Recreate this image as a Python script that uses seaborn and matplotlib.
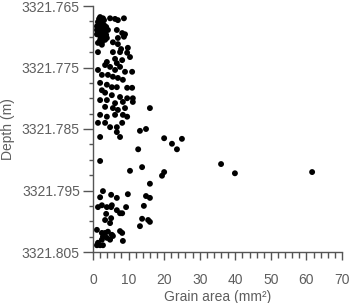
import matplotlib
matplotlib.use("Agg")
import matplotlib.pyplot as plt
from matplotlib.ticker import MultipleLocator, FormatStrFormatter
import seaborn as sns
import pandas as pd

grain_area = [
    2.0, 2.8, 4.8, 6.2, 7.0, 8.7, 6.7, 8.2, 9.0, 7.0, 8.7, 5.6, 7.0, 2.5, 1.4, 5.6, 7.6, 9.6, 9.8, 7.9,
    3.9, 6.2, 8.2, 10.4, 6.7, 1.4, 2.0, 2.5, 3.1, 1.7, 2.2, 2.8, 3.7, 1.4, 2.0, 2.5, 3.4, 1.7, 2.2, 2.8,
    2.0, 2.5, 1.4, 3.4, 3.9, 1.1, 1.1, 1.1, 4.2, 3.7, 1.7, 3.1, 3.4, 1.4, 4.8, 6.2, 7.6, 9.0, 11.0, 2.5,
    4.2, 5.6, 7.0, 8.4, 2.0, 3.9, 5.3, 6.7, 9.6, 11.0, 2.5, 3.4, 5.3, 7.6, 9.6, 2.0, 3.9, 6.2, 8.4, 11.2,
    11.2, 3.4, 5.6, 7.0, 9.0, 16.0, 2.0, 3.9, 6.2, 8.4, 9.6, 1.4, 3.4, 4.8, 6.7, 8.2, 6.7, 7.6, 2.0, 13.2,
    14.9, 20.0, 22.2, 23.6, 25.0, 12.7, 2.0, 13.8, 36.0, 39.9, 61.6, 10.4, 19.4, 20.0, 16.0, 2.8, 2.0, 5.1, 6.7, 9.8,
    14.9, 16.0, 1.4, 2.5, 3.9, 5.1, 5.3, 6.7, 7.6, 8.2, 9.3, 14.3, 3.7, 5.1, 3.4, 4.8, 13.8, 15.5, 16.0, 13.2,
    1.1, 2.5, 3.4, 4.2, 5.3, 7.6, 8.2, 2.5, 2.8, 3.9, 4.8, 5.6, 1.4, 1.1, 2.0, 2.8, 8.4,
]

depth = [
    3321.7668, 3321.7670, 3321.7670, 3321.7671, 3321.7673, 3321.7670, 3321.7689, 3321.7694, 3321.7696, 3321.7702,
    3321.7700, 3321.7709, 3321.7712, 3321.7713, 3321.7725, 3321.7725, 3321.7725, 3321.7726, 3321.7718, 3321.7720,
    3321.7741, 3321.7736, 3321.7738, 3321.7733, 3321.7743, 3321.7676, 3321.7679, 3321.7676, 3321.7681, 3321.7684,
    3321.7687, 3321.7686, 3321.7684, 3321.7691, 3321.7694, 3321.7691, 3321.7692, 3321.7697, 3321.7700, 3321.7699,
    3321.7705, 3321.7709, 3321.7710, 3321.7705, 3321.7702, 3321.7683, 3321.7689, 3321.7696, 3321.7689, 3321.7697,
    3321.7671, 3321.7673, 3321.7746, 3321.7754, 3321.7749, 3321.7754, 3321.7749, 3321.7757, 3321.7757, 3321.7762,
    3321.7762, 3321.7765, 3321.7767, 3321.7770, 3321.7775, 3321.7778, 3321.7782, 3321.7782, 3321.7783, 3321.7783,
    3321.7787, 3321.7791, 3321.7795, 3321.7798, 3321.7800, 3321.7803, 3321.7803, 3321.7808, 3321.7806, 3321.7800,
    3321.7806, 3321.7814, 3321.7816, 3321.7819, 3321.7816, 3321.7816, 3321.7827, 3321.7830, 3321.7827, 3321.7827,
    3321.7830, 3321.7840, 3321.7840, 3321.7847, 3321.7847, 3321.7840, 3321.7855, 3321.7863, 3321.7863, 3321.7853,
    3321.7850, 3321.7865, 3321.7874, 3321.7883, 3321.7866, 3321.7883, 3321.7902, 3321.7912, 3321.7907, 3321.7922,
    3321.7920, 3321.7918, 3321.7926, 3321.7920, 3321.7939, 3321.7951, 3321.7961, 3321.7957, 3321.7962, 3321.7956,
    3321.7959, 3321.7962, 3321.7977, 3321.7974, 3321.7977, 3321.7977, 3321.7974, 3321.7982, 3321.7987, 3321.7987,
    3321.7977, 3321.7975, 3321.7988, 3321.7995, 3321.7998, 3321.8003, 3321.7996, 3321.7998, 3321.8001, 3321.8008,
    3321.8014, 3321.8019, 3321.8019, 3321.8017, 3321.8022, 3321.8016, 3321.8019, 3321.8030, 3321.8025, 3321.8027,
    3321.8030, 3321.8024, 3321.8035, 3321.8039, 3321.8039, 3321.8039, 3321.8032,
]

x_ticks = [0, 10, 20, 30, 40, 50, 60, 70]
y_ticks = [3321.765, 3321.775, 3321.785, 3321.795, 3321.805]
x_label = "Grain area (mm²)"
y_label = "Depth (m)"

sns.set_style("ticks")
plt.rcParams["font.family"] = ["Liberation Sans", "DejaVu Sans"]

text_color = "#5e5e5e"
axis_color = "#555555"

df = pd.DataFrame({"area": grain_area, "depth": depth})

fig = plt.figure(figsize=(3.5, 3.03), dpi=100)
ax = fig.add_axes([93 / 350, 1 - 252 / 303, (342 - 93) / 350, (252 - 6) / 303])

sns.scatterplot(data=df, x="area", y="depth", ax=ax, color="black", s=18,
                linewidth=0, edgecolor="none", legend=False)

ax.set_xlim(0, 70)
ax.set_ylim(3321.805, 3321.765)
ax.set_xticks(x_ticks)
ax.set_yticks(y_ticks)
ax.xaxis.set_minor_locator(MultipleLocator(2))
ax.yaxis.set_minor_locator(MultipleLocator(0.0025))
ax.yaxis.set_major_formatter(FormatStrFormatter("%.3f"))

for side in ["top", "right"]:
    ax.spines[side].set_visible(False)
for side in ["left", "bottom"]:
    ax.spines[side].set_color(axis_color)
    ax.spines[side].set_linewidth(1.0)

ax.tick_params(axis="y", which="major", length=7, width=1.0, color=axis_color,
               labelsize=10, labelcolor=text_color, pad=2.5)
ax.tick_params(axis="y", which="minor", length=3, width=1.0, color=axis_color)
ax.tick_params(axis="x", which="major", length=6, width=1.0, color=axis_color,
               labelsize=10, labelcolor=text_color, pad=9)
ax.tick_params(axis="x", which="minor", length=4, width=1.0, color=axis_color)

ax.set_xlabel(x_label, fontsize=10, color=text_color, labelpad=2)
ax.set_ylabel(y_label, fontsize=10, color=text_color, labelpad=5)

fig.savefig("out.png", dpi=100)
